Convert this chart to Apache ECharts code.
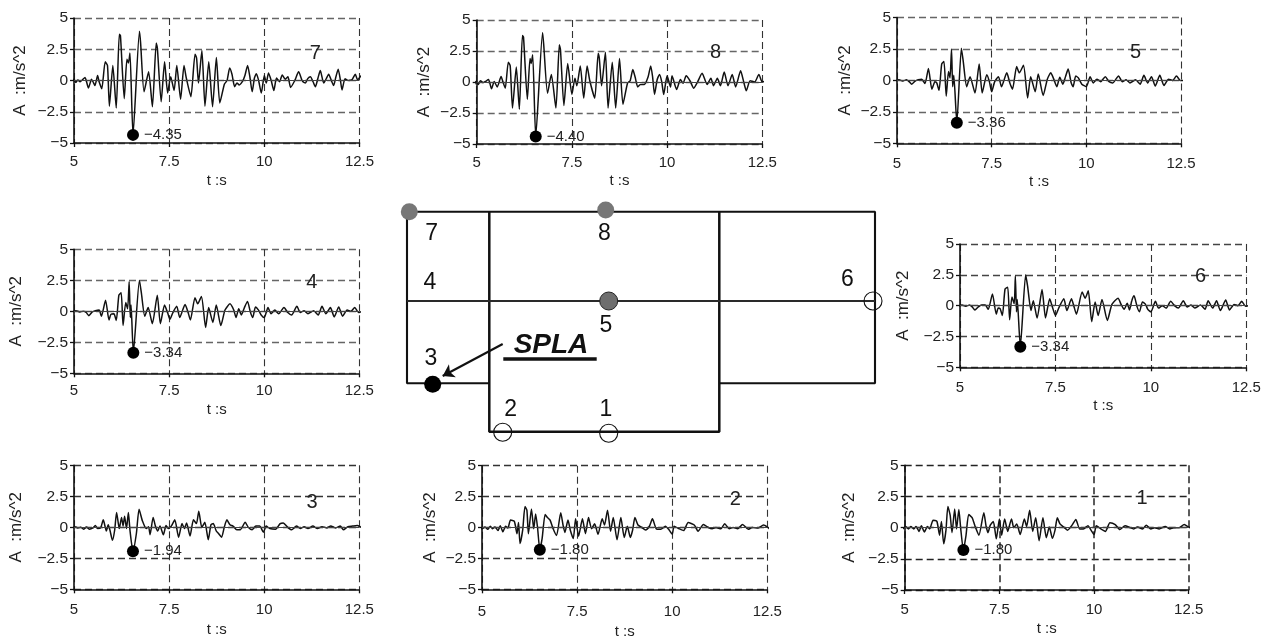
<!DOCTYPE html>
<html><head><meta charset="utf-8">
<style>html,body{margin:0;padding:0;background:#fff}#c{width:1270px;height:636px}</style>
<script src="https://cdn.jsdelivr.net/npm/echarts@6/dist/echarts.min.js"></script>
</head><body><div id="c"></div>
<script>
const tickX=[5,7.5,10,12.5];
const tickY=[-5,-2.5,0,2.5,5];
const trace7=[[4.87,0.05],[4.93,-0.12],[4.98,0.1],[5.05,-0.15],[5.1,0.05],[5.16,-0.1],[5.22,0.05],[5.29,0.25],[5.38,-0.6],[5.46,0.1],[5.5,-0.1],[5.55,-0.4],[5.62,0.4],[5.66,-0.1],[5.73,-0.65],[5.82,1.5],[5.88,1.2],[5.93,-2.05],[6.02,1.2],[6.11,-2.2],[6.19,3.7],[6.22,3.6],[6.32,-1.45],[6.39,1.7],[6.43,1.4],[6.47,2.2],[6.55,-4.35],[6.72,3.95],[6.75,3.0],[6.84,-0.9],[6.96,0.7],[7.06,-2.1],[7.16,3.0],[7.19,2.6],[7.29,-1.7],[7.38,1.5],[7.46,-1.0],[7.54,0.3],[7.63,-0.8],[7.7,1.2],[7.8,-1.5],[7.89,1.2],[7.95,0.2],[8.07,-1.3],[8.18,2.1],[8.22,1.8],[8.27,-0.2],[8.36,2.4],[8.44,-2.05],[8.54,1.5],[8.64,-2.1],[8.74,1.85],[8.83,-1.8],[8.95,-0.3],[9.02,0],[9.09,1.0],[9.15,0.5],[9.22,-0.5],[9.28,-0.2],[9.34,-0.35],[9.43,-0.05],[9.49,0.4],[9.56,1.2],[9.62,0.3],[9.68,-0.9],[9.74,0.2],[9.79,0.55],[9.85,0],[9.92,-1.0],[10,0.4],[10.05,-0.2],[10.11,0.6],[10.18,0],[10.25,-0.8],[10.32,0.2],[10.4,-0.1],[10.47,0.45],[10.55,0.1],[10.62,0.3],[10.69,-0.55],[10.8,0],[10.9,0.7],[11.0,-0.05],[11.08,-0.2],[11.14,0.15],[11.21,0.3],[11.28,-0.1],[11.34,-0.5],[11.41,0.2],[11.47,0.8],[11.56,-0.2],[11.62,0.1],[11.69,0.5],[11.76,0],[11.82,-0.4],[11.88,0.3],[11.94,0.9],[12.0,0],[12.04,-0.75],[12.12,0.15],[12.2,0],[12.3,0.05],[12.39,0.5],[12.45,0.05],[12.55,0.4],[12.62,-0.05],[12.7,-0.3]];
const trace8=[[4.87,0.2],[4.93,-0.25],[4.98,0.05],[5.04,-0.2],[5.1,0.1],[5.17,-0.05],[5.23,0.05],[5.31,0.2],[5.39,-0.55],[5.46,0.05],[5.54,-0.4],[5.64,0.45],[5.69,0],[5.75,-0.5],[5.83,1.6],[5.88,1.3],[5.94,-2.1],[6.04,1.2],[6.12,-2.2],[6.2,3.75],[6.23,3.6],[6.33,-1.4],[6.4,1.9],[6.43,1.5],[6.47,2.2],[6.55,-4.4],[6.73,4.0],[6.76,3.0],[6.86,-0.9],[6.96,0.6],[7.08,-2.1],[7.17,3.0],[7.2,2.6],[7.29,-1.9],[7.39,1.5],[7.5,-1.0],[7.58,0.3],[7.63,-0.3],[7.72,1.3],[7.81,-1.3],[7.9,1.3],[7.97,0.1],[8.1,-1.3],[8.19,2.3],[8.22,1.9],[8.28,-0.3],[8.38,2.4],[8.45,-2.1],[8.56,1.6],[8.65,-2.1],[8.75,1.9],[8.84,-1.8],[8.96,-0.1],[9.03,0.1],[9.1,1.0],[9.16,0.4],[9.23,-0.4],[9.3,-0.2],[9.4,-0.2],[9.5,0.4],[9.57,1.3],[9.62,0.4],[9.67,-1.0],[9.74,0.2],[9.8,0.6],[9.86,0],[9.91,-1.0],[10,0.5],[10.09,-0.4],[10.13,0.5],[10.25,-0.6],[10.35,0.2],[10.42,-0.1],[10.5,0.5],[10.6,0.1],[10.7,-0.5],[10.8,0],[10.92,0.7],[11.05,-0.2],[11.15,0.3],[11.22,-0.3],[11.32,0.3],[11.4,-0.3],[11.5,0.8],[11.6,-0.3],[11.71,0.6],[11.8,-0.4],[11.93,0.9],[12.02,-0.1],[12.08,-0.7],[12.18,0.1],[12.3,0],[12.41,0.6],[12.5,0],[12.6,0.1],[12.7,-0.35]];
const trace5=[[4.87,0],[4.95,-0.05],[5.05,0.05],[5.15,-0.05],[5.25,0.05],[5.32,-0.1],[5.39,-0.3],[5.48,-0.05],[5.56,0.05],[5.65,0.1],[5.74,-0.25],[5.83,0.95],[5.92,-0.7],[5.97,-0.3],[6.0,-0.1],[6.05,-0.2],[6.11,-0.8],[6.18,1.3],[6.24,1.5],[6.3,-1.25],[6.36,0.7],[6.4,0.2],[6.44,2.5],[6.47,-0.5],[6.5,0.4],[6.58,-3.36],[6.7,2.55],[6.75,1.5],[6.84,-0.5],[6.93,0.3],[7.06,-1.0],[7.17,1.3],[7.25,-1.0],[7.37,0.45],[7.44,-0.1],[7.5,-0.9],[7.58,-0.1],[7.68,0.3],[7.76,-0.5],[7.9,0.6],[7.98,-0.2],[8.05,-0.7],[8.16,1.1],[8.23,0.6],[8.34,1.2],[8.45,-1.4],[8.53,0.3],[8.65,-0.9],[8.73,0.5],[8.86,-1.2],[8.97,0.1],[9.06,0.6],[9.14,0.1],[9.22,-0.5],[9.3,0.25],[9.38,-0.3],[9.45,0.3],[9.52,0.9],[9.6,-0.2],[9.65,-0.5],[9.72,0.35],[9.79,0.2],[9.88,-0.3],[10,-0.5],[10.1,0.3],[10.18,-0.2],[10.28,0.1],[10.38,-0.1],[10.5,0.3],[10.6,-0.1],[10.7,-0.2],[10.85,0.35],[10.95,-0.1],[11.05,0.05],[11.15,-0.2],[11.3,0.05],[11.42,-0.3],[11.52,0.4],[11.62,-0.2],[11.72,0.3],[11.82,-0.45],[11.94,0.4],[12.05,-0.4],[12.17,0.1],[12.28,0],[12.38,0.35],[12.48,0],[12.58,0],[12.68,-0.1]];
const trace4=[[4.87,0],[4.95,-0.05],[5.05,0.05],[5.15,-0.05],[5.25,0],[5.32,-0.1],[5.39,-0.35],[5.48,-0.05],[5.56,0.05],[5.66,0.1],[5.72,-0.4],[5.83,0.9],[5.92,-0.7],[5.97,-0.25],[6.05,-0.2],[6.11,-0.75],[6.18,1.3],[6.24,1.5],[6.29,-1.15],[6.36,0.7],[6.41,0.2],[6.45,2.4],[6.48,-0.5],[6.5,0.5],[6.56,-3.34],[6.72,2.5],[6.77,1.5],[6.86,-0.4],[6.95,0.3],[7.06,-1.0],[7.19,1.3],[7.27,-1.0],[7.38,0.5],[7.46,-0.1],[7.52,-0.65],[7.6,-0.1],[7.7,0.4],[7.78,-0.5],[7.92,0.55],[8.0,-0.1],[8.06,-0.7],[8.18,1.1],[8.25,0.6],[8.35,1.2],[8.46,-1.3],[8.54,0.3],[8.65,-0.9],[8.74,0.5],[8.86,-1.15],[8.97,0.1],[9.1,0.6],[9.2,0.1],[9.26,-0.5],[9.33,0.2],[9.4,-0.3],[9.48,0.3],[9.56,0.8],[9.64,-0.1],[9.7,-0.5],[9.77,0.35],[9.85,0.1],[9.92,-0.3],[10,-0.5],[10.1,0.3],[10.18,-0.2],[10.28,0.1],[10.38,-0.2],[10.52,0.3],[10.62,-0.1],[10.72,-0.3],[10.86,0.4],[10.95,-0.1],[11.05,0.05],[11.15,-0.2],[11.3,0.05],[11.42,-0.3],[11.52,0.4],[11.62,-0.2],[11.74,0.3],[11.84,-0.45],[11.96,0.35],[12.06,-0.4],[12.18,0.1],[12.28,0],[12.38,0.3],[12.48,-0.1],[12.58,0],[12.7,-0.3]];
const trace6=[[4.87,0],[4.95,-0.05],[5.05,0.05],[5.15,-0.05],[5.25,0.05],[5.32,-0.1],[5.39,-0.35],[5.48,-0.1],[5.56,0.05],[5.66,0.05],[5.74,-0.3],[5.85,0.95],[5.95,-0.7],[6.0,-0.2],[6.05,-0.25],[6.11,-0.8],[6.18,1.35],[6.25,1.5],[6.3,-1.15],[6.36,0.7],[6.42,0.15],[6.45,2.4],[6.48,-0.5],[6.5,0.5],[6.58,-3.34],[6.72,2.5],[6.77,1.6],[6.86,-0.4],[6.92,0.4],[7.02,-1.0],[7.15,1.3],[7.24,-1.0],[7.35,0.55],[7.42,-0.1],[7.5,-0.8],[7.6,-0.1],[7.72,0.55],[7.8,-0.4],[7.92,0.55],[7.98,0],[8.05,-0.7],[8.2,1.1],[8.28,0.6],[8.36,1.2],[8.45,-1.3],[8.54,0.3],[8.62,-0.8],[8.72,0.5],[8.86,-1.2],[8.98,0.1],[9.14,0.6],[9.22,0.1],[9.3,-0.3],[9.38,0.2],[9.44,-0.35],[9.5,0.4],[9.56,0.8],[9.64,-0.1],[9.7,-0.5],[9.78,0.3],[9.86,0.1],[9.92,-0.3],[10,-0.5],[10.12,0.35],[10.2,-0.2],[10.3,0],[10.4,-0.2],[10.52,0.35],[10.62,0],[10.72,-0.2],[10.85,0.4],[10.95,-0.1],[11.05,0.05],[11.15,-0.2],[11.3,0.05],[11.42,-0.3],[11.5,0.4],[11.62,-0.2],[11.72,0.4],[11.82,-0.4],[11.96,0.45],[12.06,-0.35],[12.18,0.1],[12.28,0],[12.38,0.35],[12.48,-0.05],[12.58,0],[12.7,-0.1]];
const trace3=[[4.87,0.05],[4.95,-0.05],[5.02,0.05],[5.1,-0.05],[5.18,0],[5.25,-0.15],[5.33,0.02],[5.4,-0.15],[5.5,-0.05],[5.56,0.15],[5.62,-0.1],[5.7,-0.05],[5.77,0.6],[5.85,-0.3],[5.9,0.2],[5.95,-0.3],[6.01,-1.05],[6.07,-0.2],[6.12,1.2],[6.19,-0.1],[6.25,0.8],[6.29,0.1],[6.33,0.9],[6.38,-0.1],[6.43,1.2],[6.47,-0.2],[6.55,-1.94],[6.64,-0.5],[6.71,1.45],[6.8,0.5],[6.9,-0.1],[6.96,0.05],[7.0,-0.6],[7.08,0.8],[7.14,0.1],[7.2,-0.3],[7.26,0.1],[7.35,-0.6],[7.42,0.15],[7.48,-0.1],[7.56,0.1],[7.65,0.6],[7.75,-0.8],[7.84,0.3],[7.9,-0.1],[7.96,0.35],[8.05,-0.7],[8.14,0.6],[8.22,0.3],[8.28,1.3],[8.36,0],[8.44,0.4],[8.53,-1.0],[8.6,0.2],[8.66,0.3],[8.74,-0.3],[8.8,-0.5],[8.88,-0.8],[8.95,0],[9.02,0.6],[9.1,0.2],[9.18,0.1],[9.28,-0.2],[9.37,-0.2],[9.5,0.4],[9.58,0],[9.68,-0.2],[9.78,0.1],[9.88,0.1],[9.98,-0.4],[10.05,0.1],[10.15,-0.1],[10.3,-0.15],[10.42,0.3],[10.5,0.35],[10.62,0],[10.72,-0.2],[10.85,0.1],[10.95,-0.1],[11.05,0.05],[11.15,-0.1],[11.28,0.1],[11.4,-0.1],[11.52,0.05],[11.65,-0.05],[11.75,0.1],[11.88,-0.05],[12.0,0.1],[12.08,-0.2],[12.2,0.05],[12.32,0.1],[12.45,0.15],[12.55,0],[12.7,-0.05]];
const trace2=[[4.87,0],[4.92,0.15],[5.0,-0.1],[5.08,0.05],[5.15,-0.15],[5.22,0.1],[5.28,-0.1],[5.34,0.05],[5.42,-0.25],[5.48,0.15],[5.55,-0.35],[5.62,0.1],[5.68,-0.05],[5.75,0.6],[5.85,0.5],[5.92,-0.5],[5.96,0.4],[6.0,-1.3],[6.07,-0.2],[6.13,1.7],[6.18,1.4],[6.22,-0.5],[6.3,1.5],[6.36,-0.1],[6.41,1.1],[6.46,0],[6.52,-1.8],[6.58,-0.9],[6.66,1.05],[6.72,0.8],[6.79,0.6],[6.87,-0.1],[6.96,-0.65],[7.07,1.2],[7.13,0.2],[7.18,-0.4],[7.26,0.6],[7.32,-0.2],[7.4,-0.9],[7.46,0.7],[7.54,-0.7],[7.64,0.7],[7.72,-0.5],[7.8,0.8],[7.88,-0.1],[7.96,0.3],[8.05,-0.55],[8.16,0.7],[8.22,0.2],[8.3,1.4],[8.38,-0.3],[8.45,0.8],[8.55,-1.0],[8.65,0.8],[8.74,-0.8],[8.82,0.1],[8.9,-0.8],[8.96,-0.2],[9.02,0.8],[9.1,0.2],[9.2,0],[9.3,-0.2],[9.4,0.1],[9.48,0.7],[9.58,-0.1],[9.7,-0.15],[9.82,0.1],[9.92,-0.2],[10,-0.55],[10.05,0.1],[10.18,-0.1],[10.3,-0.25],[10.42,0.4],[10.58,0.2],[10.68,-0.3],[10.82,0.25],[10.95,0],[11.05,-0.1],[11.15,0],[11.28,-0.1],[11.38,0.3],[11.5,-0.1],[11.6,0],[11.72,-0.1],[11.85,0.25],[12.0,-0.15],[12.1,0],[12.25,-0.05],[12.4,0.2],[12.52,0],[12.6,-0.2],[12.7,-0.1]];
const trace1=[[4.87,0.05],[4.95,-0.1],[5.02,0.1],[5.1,-0.1],[5.16,0.1],[5.24,-0.1],[5.3,0.1],[5.38,-0.3],[5.44,0.15],[5.52,-0.35],[5.6,0.1],[5.66,-0.1],[5.75,0.6],[5.85,0.5],[5.92,-0.6],[5.97,0.5],[6.03,-1.3],[6.09,-0.2],[6.14,1.7],[6.2,1.0],[6.25,-0.4],[6.32,1.5],[6.37,-0.1],[6.43,1.45],[6.48,-0.1],[6.55,-1.8],[6.62,-0.6],[6.69,1.05],[6.78,0.8],[6.86,0.1],[6.96,-0.6],[7.09,1.2],[7.15,0.1],[7.2,-0.4],[7.26,0.2],[7.34,0.5],[7.42,-0.9],[7.5,0.7],[7.56,-0.6],[7.64,0.7],[7.72,-0.3],[7.82,0.7],[7.88,0],[7.96,0.3],[8.05,-0.55],[8.16,0.7],[8.22,0.1],[8.3,1.4],[8.38,-0.3],[8.46,0.8],[8.55,-1.05],[8.65,0.8],[8.74,-0.8],[8.82,0.05],[8.9,-0.85],[8.97,-0.2],[9.03,0.8],[9.1,0.3],[9.2,0.05],[9.3,-0.2],[9.42,0.2],[9.52,0.65],[9.62,-0.1],[9.72,-0.1],[9.84,0.15],[9.92,-0.2],[10,-0.55],[10.06,0.15],[10.18,-0.1],[10.3,-0.3],[10.42,0.4],[10.56,0.25],[10.68,-0.15],[10.82,0.15],[10.95,0],[11.05,-0.1],[11.15,0.05],[11.28,-0.1],[11.38,0.2],[11.5,-0.1],[11.6,0],[11.72,-0.1],[11.88,0.1],[12.0,-0.1],[12.1,0],[12.25,0],[12.38,0.25],[12.5,0.05],[12.6,-0.1],[12.7,-0.15]];
const peak7=[6.55,-4.35],peak8=[6.55,-4.40],peak5=[6.58,-3.36],peak4=[6.56,-3.34],peak6=[6.58,-3.34],peak3=[6.55,-1.94],peak2=[6.52,-1.80],peak1=[6.55,-1.80];
const panelNames=['7','8','5','4','6','3','2','1'];
const panelTraces=[trace7,trace8,trace5,trace4,trace6,trace3,trace2,trace1];
const panelPeaks=[peak7,peak8,peak5,peak4,peak6,peak3,peak2,peak1];
const panelTags=[[11.34,2.2],[11.27,2.35],[11.3,2.2],[11.25,2.35],[11.3,2.35],[11.26,2.0],[11.66,2.3],[11.27,2.35]];
// layout: left, top, right, bottom, y-name gap, x-name gap, x-label margin, horizontal grid colour, vertical grid width
const layout=[
[74,18,359.5,143,45,30,11,'#666',1.1],[476.7,20,762.3,144,44,29,11,'#666',1.1],[897,17.5,1181,143.3,43,31,13,'#666',1.1],
[74,249.3,359.3,373.3,49,29,10,'#666',1.1],[960,244,1246.3,367.3,48,31,13,'#444',1.1],[74,465.3,359.3,589.3,49,33,13,'#333',1.1],
[482,465.7,767.3,589.3,43,35,15,'#333',1.1],[904.7,465.3,1188.7,590,47,31,12,'#222',1.6]];

const tickText=v=>String(v).replace('-','\u2212');
const grids=[],xAxes=[],yAxes=[],series=[];
const font='"Liberation Sans",Arial,sans-serif',ink='#222';
panelNames.forEach((name,i)=>{
  const [l,t,r,b,ygap,xgap,xmargin,hc,vw]=layout[i];
  grids.push({left:l,top:t,width:r-l,height:b-t,outerBoundsMode:'none',containLabel:false});
  xAxes.push({type:'value',gridIndex:i,min:tickX[0],max:tickX[3],interval:2.5,name:'t :s',nameLocation:'middle',nameGap:xgap,
    nameTextStyle:{fontFamily:font,fontSize:15,color:ink},
    axisLine:{onZero:false,lineStyle:{color:'#111',width:1.6}},axisTick:{length:4,lineStyle:{color:'#111',width:1.3}},
    axisLabel:{fontFamily:font,fontSize:15,color:ink,margin:xmargin,formatter:tickText,hideOverlap:false,showMinLabel:true,showMaxLabel:true},
    splitLine:{show:true,lineStyle:{type:[7,4],color:'#333',width:vw}}});
  yAxes.push({type:'value',gridIndex:i,min:tickY[0],max:tickY[4],interval:2.5,name:'A  :m/s^2',nameLocation:'middle',nameGap:ygap,
    nameTextStyle:{fontFamily:font,fontSize:17,color:ink},
    axisLine:{show:true,onZero:false,lineStyle:{color:'#111',width:1.6}},axisTick:{show:true,length:4,lineStyle:{color:'#111',width:1.3}},
    axisLabel:{fontFamily:font,fontSize:15.5,color:ink,margin:6,formatter:tickText,showMinLabel:true,showMaxLabel:true},
    splitLine:{show:true,lineStyle:{type:[7,4],color:hc,width:1.3}}});
  series.push({type:'line',xAxisIndex:i,yAxisIndex:i,data:panelTraces[i],showSymbol:false,clip:false,silent:true,z:3,smooth:0.2,
    lineStyle:{color:'#111',width:1.5},
    markLine:{silent:true,symbol:'none',label:{show:false},lineStyle:{type:'solid',color:'#444',width:1},data:[{yAxis:0}],animation:false}});
  series.push({type:'scatter',xAxisIndex:i,yAxisIndex:i,data:[panelPeaks[i]],symbolSize:12,silent:true,z:4,clip:false,
    itemStyle:{color:'#000',opacity:1},
    label:{show:true,position:'right',distance:5,fontFamily:font,fontSize:15,color:'#222',
      formatter:p=>p.value[1].toFixed(2).replace('-','\u2212')}});
  series.push({type:'scatter',xAxisIndex:i,yAxisIndex:i,data:[panelTags[i]],symbolSize:1,silent:true,z:4,
    itemStyle:{color:'transparent',opacity:1},
    label:{show:true,position:'inside',fontFamily:font,fontSize:20,color:'#222',formatter:name}});
});

// schematic floor plan, in its own hidden axes
const S=8;
grids.push({left:390,top:190,width:500,height:260,outerBoundsMode:'none'});
xAxes.push({type:'value',gridIndex:S,min:0,max:500,show:false});
yAxes.push({type:'value',gridIndex:S,min:0,max:260,inverse:true,show:false});
const wallOuter=[[17,21.7],[485,21.7],[485,193.3],[329.3,193.3]];
const wallLeft=[[17,21.7],[17,193.3],[99.3,193.3]];
const wallCore=[[99.3,21.7],[99.3,241.7],[329.3,241.7],[329.3,21.7]];
const wallMid=[[17,111],[485,111]];
const underline=[[113.3,169],[206.7,169]];
const arrowFrom=[112.7,154],arrowTo=[52.7,186];
const grayNodes=[[19.3,21.7],[215.7,20]];
const midNode=[[218.7,111]];
const blackNode=[[42.7,194.3]];
const openNodes=[[483,111],[112.7,242.3],[218.7,243.3]];
const nodeLabels=[[41.7,44,'7'],[214.3,44,'8'],[40,92.7,'4'],[216,136,'5'],[457.3,89.3,'6'],[41,168.3,'3'],[120.7,219.3,'2'],[216,219.3,'1']];
const spla=[161,155,'SPLA'];
const wall=(data,w,c)=>({type:'line',xAxisIndex:S,yAxisIndex:S,data,showSymbol:false,silent:true,clip:false,z:2,lineStyle:{color:c||'#111',width:w}});
series.push(wall(wallOuter,2.1),wall(wallLeft,2.1),wall(wallCore,2.5),wall(wallMid,2,'#2a2a2a'),wall(underline,3.5));
series.push({type:'line',xAxisIndex:S,yAxisIndex:S,data:[],silent:true,
  markLine:{silent:true,symbol:['none','arrow'],symbolSize:11,label:{show:false},animation:false,lineStyle:{type:'solid',color:'#111',width:2.2},
    data:[[{coord:arrowFrom},{coord:arrowTo}]]}});
const dots=(data,style,size)=>({type:'scatter',xAxisIndex:S,yAxisIndex:S,data,symbolSize:size,silent:true,clip:false,z:5,itemStyle:Object.assign({opacity:1},style)});
series.push(dots(grayNodes,{color:'#777'},17),dots(midNode,{color:'#6e6e6e',borderColor:'#222',borderWidth:1},18),
  dots(blackNode,{color:'#000'},17),dots(openNodes,{color:'transparent',borderColor:'#111',borderWidth:1.1},18));
const textLabel=(data,style)=>({type:'scatter',xAxisIndex:S,yAxisIndex:S,data,symbolSize:1,silent:true,z:6,itemStyle:{color:'transparent',opacity:1},
  label:Object.assign({show:true,position:'inside',fontFamily:font,color:'#111',formatter:p=>p.value[2]},style)});
series.push(textLabel(nodeLabels,{fontSize:23}),textLabel([spla],{fontSize:28,fontWeight:'bold',fontStyle:'italic'}));

const chart=echarts.init(document.getElementById('c'),null,{renderer:'canvas'});
chart.setOption({animation:false,backgroundColor:'#fff',grid:grids,xAxis:xAxes,yAxis:yAxes,series});
</script></body></html>
